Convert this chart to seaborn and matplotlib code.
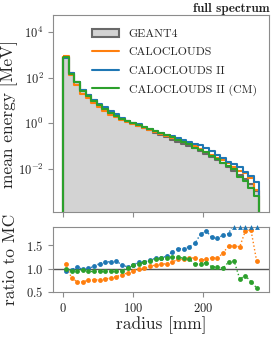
import numpy as np
import matplotlib
matplotlib.use("Agg")
import matplotlib.pyplot as plt
from matplotlib.patches import Patch
from matplotlib.lines import Line2D
import seaborn as sns

# radial bins [mm]
bin_edges = list(range(0, 281, 8))
radius = np.array(bin_edges[:-1]) + 4

# Geant4 mean energy per bin [MeV]
geant4 = np.array([790, 158, 66, 28, 16.6, 10.5, 6.6, 4.4, 3.0, 2.2,
                   1.62, 1.26, 1.0, 0.79, 0.62, 0.49, 0.38, 0.30, 0.24, 0.195,
                   0.155, 0.126, 0.102, 0.079, 0.062, 0.047, 0.035, 0.025, 0.0178, 0.012,
                   0.0083, 0.0056, 0.0035, 0.0021, 0.00107])

# model / Geant4
ratio_cc = np.array([1.09, 0.80, 0.72, 0.72, 0.75, 0.76, 0.76, 0.78, 0.80, 0.83,
                     0.87, 0.91, 0.96, 1.00, 1.01, 1.05, 1.08, 1.09, 1.11, 1.145,
                     1.20, 1.20, 1.23, 1.23, 1.18, 1.20, 1.23, 1.23, 1.33, 1.49,
                     1.49, 1.47, 1.81, 1.83, 1.17])
ratio_cc2 = np.array([0.96, 0.98, 1.03, 0.99, 1.01, 1.05, 1.11, 1.14, 1.15, 1.16,
                      1.08, 1.04, 1.08, 1.14, 1.14, 1.19, 1.22, 1.23, 1.27, 1.36,
                      1.43, 1.43, 1.47, 1.54, 1.74, 1.81, 1.67, 1.65, 1.72, 1.75,
                      2.0, 2.1, 2.2, 2.3, 2.4])
ratio_cm = np.array([1.00, 0.96, 0.96, 0.98, 0.94, 0.94, 0.94, 0.94, 0.94, 0.94,
                     0.96, 1.01, 1.07, 1.10, 1.14, 1.17, 1.21, 1.22, 1.23, 1.25,
                     1.25, 1.22, 1.21, 1.09, 1.11, 1.13, 1.04, 1.04, 1.01, 1.14,
                     1.16, 0.78, 0.85, 0.72, 0.59])

labels = ["GEANT4", "CALOCLOUDS", "CALOCLOUDS II", "CALOCLOUDS II (CM)"]
colors = ["#ff7f0e", "#1f77b4", "#2ca02c"]
ratios = [ratio_cc, ratio_cc2, ratio_cm]

sns.set_style("ticks")
plt.rcParams["font.family"] = ["cmr10", "DejaVu Serif"]
plt.rcParams["mathtext.fontset"] = "cm"
plt.rcParams["axes.formatter.use_mathtext"] = True
plt.rcParams["axes.unicode_minus"] = False
plt.rcParams["axes.edgecolor"] = "#8c8c8c"
plt.rcParams["xtick.color"] = "#8c8c8c"
plt.rcParams["ytick.color"] = "#8c8c8c"
plt.rcParams["xtick.labelcolor"] = "#222222"
plt.rcParams["ytick.labelcolor"] = "#222222"

fig = plt.figure(figsize=(2.74, 3.38), dpi=100)
ax = fig.add_axes([0.1945, 0.3728, 0.788, 0.5828])
ax2 = fig.add_axes([0.1945, 0.1361, 0.788, 0.1932])

# --- top panel: mean energy profile ---
sns.histplot(x=radius, weights=geant4, bins=bin_edges, element="step", fill=True,
             color="lightgray", facecolor="lightgray", edgecolor="dimgray",
             linewidth=1.5, ax=ax)
for r, c in zip(ratios, colors):
    sns.histplot(x=radius, weights=geant4 * r, bins=bin_edges, element="step", fill=True,
                 color=c, facecolor="none", edgecolor=c, linewidth=1.5, ax=ax)
ax.set_yscale("log")
ax.set_ylim(1.3e-4, 5.6e4)
ax.set_xlim(-14, 294)
ax.set_yticks([1e-2, 1e0, 1e2, 1e4])
ax.minorticks_off()
ax.set_xticks([0, 100, 200])
ax.tick_params(labelbottom=False, labelsize=9, length=3.5)
ax.set_xlabel("")
ax.set_ylabel("mean energy [MeV]", fontsize=12.5)
ax.yaxis.set_label_coords(-0.165, 0.5)
ax.set_title("full spectrum", loc="right", fontsize=9.5, fontfamily="cmb10", pad=2)

handles = [Patch(facecolor="lightgray", edgecolor="dimgray", linewidth=1.5)]
handles += [Line2D([], [], color=c, lw=1.5) for c in colors]
ax.legend(handles, labels, loc="upper left", bbox_to_anchor=(0.13, 0.985), frameon=False,
          fontsize=8.5, handlelength=2.3, handletextpad=0.8, labelspacing=0.7)

# --- bottom panel: ratio ---
ymax = 1.9
ax2.axhline(1, color="#555555", lw=1, zorder=1)
for r, c in zip(ratios, colors):
    sns.lineplot(x=radius, y=r, color=c, linestyle=":", marker="o", markersize=3.5,
                 markeredgewidth=0, lw=1, ax=ax2)
    over = r > ymax
    if over.any():
        ax2.scatter(radius[over], np.full(over.sum(), ymax), marker="^", color=c,
                    s=12, linewidths=0, clip_on=False, zorder=5)
ax2.set_xlim(-14, 294)
ax2.set_ylim(0.5, ymax)
ax2.set_xticks([0, 100, 200])
ax2.set_yticks([0.5, 1.0, 1.5])
ax2.tick_params(labelsize=9, length=3.5)
ax2.set_xlabel("radius [mm]", fontsize=12.5, labelpad=1)
ax2.set_ylabel("ratio to MC", fontsize=12.5)
ax2.yaxis.set_label_coords(-0.165, 0.5)

fig.savefig("out.png", dpi=100)
